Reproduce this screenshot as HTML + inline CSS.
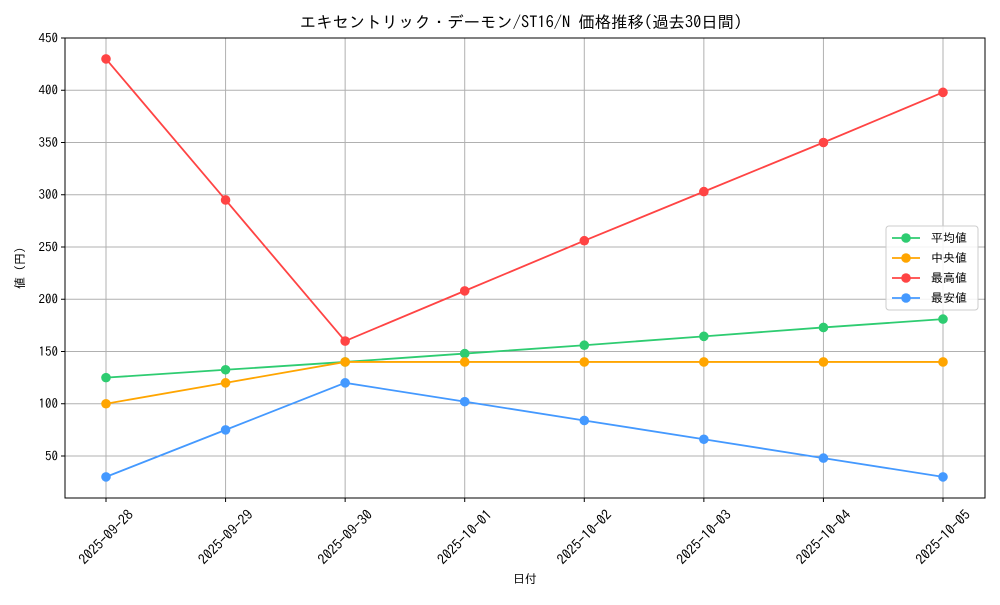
<!DOCTYPE html>
<html><head><meta charset="utf-8"><style>
body{margin:0;background:#fff;}
svg text{font-family:"IPAGothic","Noto Sans CJK JP",monospace;fill:#000;}
</style></head><body>
<svg id="chart" width="1000" height="600" xmlns="http://www.w3.org/2000/svg">
<text x="521" y="28" text-anchor="middle" font-size="16.4">エキセントリック・デーモン/ST16/N 価格推移(過去30日間)</text>
<text x="525" y="583" text-anchor="middle" font-size="12">日付</text>
<text transform="translate(24,268) rotate(-90)" text-anchor="middle" font-size="12">値 (円)</text>
<g id="grid"></g><g id="axes"></g><g id="series"></g>
<g id="legend"></g>
</svg>
<script>
const categories=["2025-09-28","2025-09-29","2025-09-30","2025-10-01","2025-10-02","2025-10-03","2025-10-04","2025-10-05"];
const avgValues=[125,132.5,140,148,156,164.5,173,181];
const medianValues=[100,120,140,140,140,140,140,140];
const maxValues=[430,295,160,208,256,303,350,398];
const minValues=[30,75,120,102,84,66,48,30];
const yTicks=[50,100,150,200,250,300,350,400,450];
const seriesNames=["平均値","中央値","最高値","最安値"];
const seriesColors=["#2ecc71","#ffa500","#ff4444","#4499ff"];
const NS="http://www.w3.org/2000/svg";
const L=65,R=985,T=38,B=498,yMin=9.8,yMax=450;
const x=i=>106+i*(943-106)/(categories.length-1);
const y=v=>B-(v-yMin)/(yMax-yMin)*(B-T);
function mk(tag,attrs,parent){const e=document.createElementNS(NS,tag);for(const k in attrs)e.setAttribute(k,attrs[k]);parent.appendChild(e);return e;}
const grid=document.getElementById('grid'),axes=document.getElementById('axes'),ser=document.getElementById('series'),leg=document.getElementById('legend');
categories.forEach((c,i)=>{
 const g=mk('line',{x1:x(i),x2:x(i),y1:T,y2:B,stroke:'#b0b0b0','stroke-width':1},grid);
 
 
 mk('line',{x1:x(i),x2:x(i),y1:B,y2:B+4,stroke:'#000'},axes);
 const t=mk('text',{transform:`translate(${x(i)},${B+39}) rotate(-45)`,'text-anchor':'middle','font-size':14,dy:'0.35em'},axes);
 t.textContent=c;
 
 
});
yTicks.forEach(v=>{
 const g=mk('line',{x1:L,x2:R,y1:y(v),y2:y(v),stroke:'#b0b0b0','stroke-width':1},grid);
 
 
 mk('line',{x1:L-4,x2:L,y1:y(v),y2:y(v),stroke:'#000'},axes);
 const t=mk('text',{x:L-7,y:y(v)+4.5,'text-anchor':'end','font-size':13},axes);
 t.textContent=v;
 
 
});
const frame=mk('rect',{x:L,y:T,width:R-L,height:B-T,fill:'none',stroke:'#000','stroke-width':1},axes);


const allSeries=[avgValues,medianValues,maxValues,minValues];
const keys=['average','median','max','min'];
allSeries.forEach((vals,s)=>{
 const p=mk('polyline',{points:vals.map((v,i)=>x(i)+','+y(v)).join(' '),fill:'none',stroke:seriesColors[s],'stroke-width':1.8},ser);
 
 
 vals.forEach((v,i)=>{
  const c=mk('circle',{cx:x(i),cy:y(v),r:4.8,fill:seriesColors[s]},ser);
  
  
 });
});
mk('rect',{x:886,y:226,width:92,height:84,rx:3,fill:'#fff','fill-opacity':0.85,stroke:'#ccc'},leg);
seriesNames.forEach((n,s)=>{
 const yy=238+s*20;
 const g=mk('g',{},leg);
 
 
 mk('line',{x1:892,x2:920,y1:yy,y2:yy,stroke:seriesColors[s],'stroke-width':1.8},g);
 mk('circle',{cx:906,cy:yy,r:4.8,fill:seriesColors[s]},g);
 const t=mk('text',{x:931,y:yy+4,'font-size':12},g);
 t.textContent=n;
});
</script>
</body></html>
